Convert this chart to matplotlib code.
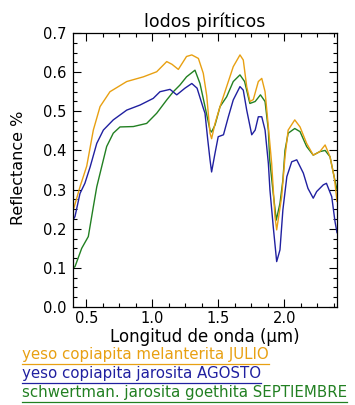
import matplotlib
matplotlib.use("Agg")
import matplotlib.pyplot as plt
from matplotlib.lines import Line2D
from matplotlib.ticker import MultipleLocator

# --- data (wavelength in um, reflectance) ---
x_julio = [0.40, 0.453, 0.504, 0.554, 0.605, 0.68, 0.807, 0.933, 1.034, 1.11,
           1.15, 1.198, 1.26, 1.30, 1.35, 1.387, 1.413, 1.438, 1.45, 1.476,
           1.514, 1.564, 1.614, 1.665, 1.69, 1.716, 1.741, 1.766, 1.804, 1.83,
           1.855, 1.88, 1.905, 1.93, 1.943, 1.981, 2.006, 2.03, 2.08, 2.12,
           2.17, 2.22, 2.27, 2.31, 2.347, 2.38, 2.40]
y_julio = [0.245, 0.307, 0.36, 0.452, 0.512, 0.55, 0.576, 0.588, 0.601, 0.627,
           0.62, 0.607, 0.64, 0.644, 0.635, 0.597, 0.54, 0.444, 0.43, 0.469,
           0.512, 0.563, 0.614, 0.644, 0.631, 0.563, 0.525, 0.53, 0.576, 0.584,
           0.55, 0.46, 0.367, 0.231, 0.197, 0.282, 0.384, 0.452, 0.478, 0.46,
           0.418, 0.388, 0.397, 0.414, 0.384, 0.33, 0.27]

x_agosto = [0.40, 0.415, 0.453, 0.49, 0.53, 0.58, 0.63, 0.705, 0.807, 0.908,
            1.008, 1.059, 1.135, 1.186, 1.248, 1.30, 1.34, 1.387, 1.40, 1.42,
            1.438, 1.45, 1.476, 1.50, 1.54, 1.577, 1.614, 1.665, 1.69, 1.716,
            1.754, 1.78, 1.804, 1.83, 1.855, 1.88, 1.892, 1.917, 1.943, 1.968,
            1.99, 2.02, 2.057, 2.095, 2.145, 2.18, 2.22, 2.246, 2.296, 2.32,
            2.36, 2.385, 2.40]
y_agosto = [0.222, 0.231, 0.29, 0.316, 0.358, 0.418, 0.452, 0.478, 0.503, 0.516,
            0.533, 0.55, 0.556, 0.542, 0.559, 0.571, 0.559, 0.508, 0.495, 0.43,
            0.376, 0.345, 0.393, 0.435, 0.44, 0.486, 0.529, 0.563, 0.554, 0.503,
            0.44, 0.452, 0.486, 0.486, 0.452, 0.367, 0.299, 0.205, 0.116, 0.146,
            0.248, 0.333, 0.371, 0.376, 0.342, 0.303, 0.278, 0.295, 0.312, 0.316,
            0.282, 0.218, 0.19]

x_sept = [0.40, 0.415, 0.466, 0.516, 0.554, 0.58, 0.617, 0.655, 0.705, 0.756,
          0.857, 0.958, 1.034, 1.11, 1.16, 1.21, 1.26, 1.324, 1.362, 1.40,
          1.438, 1.45, 1.476, 1.514, 1.564, 1.614, 1.665, 1.70, 1.74, 1.78,
          1.82, 1.855, 1.88, 1.89, 1.917, 1.94, 1.968, 1.99, 2.006, 2.03,
          2.08, 2.12, 2.17, 2.22, 2.27, 2.31, 2.347, 2.38, 2.40]
y_sept = [0.10, 0.103, 0.15, 0.18, 0.256, 0.307, 0.358, 0.41, 0.444, 0.46,
          0.461, 0.469, 0.495, 0.529, 0.55, 0.567, 0.588, 0.605, 0.571, 0.512,
          0.452, 0.447, 0.465, 0.512, 0.537, 0.576, 0.593, 0.576, 0.52, 0.525,
          0.542, 0.525, 0.452, 0.376, 0.29, 0.222, 0.265, 0.324, 0.40, 0.444,
          0.456, 0.448, 0.41, 0.388, 0.397, 0.40, 0.384, 0.33, 0.30]

labels = ["yeso copiapita melanterita JULIO",
          "yeso copiapita jarosita AGOSTO",
          "schwertman. jarosita goethita SEPTIEMBRE"]
colors = ["#e8a012", "#2020a0", "#228022"]

W, H = 355, 405
fig = plt.figure(figsize=(W / 100, H / 100), dpi=100)
ax = fig.add_axes([73 / W, 1 - 307 / H, 264 / W, 274 / H])

# draw order: green, blue, orange on top
ax.plot(x_sept, y_sept, color=colors[2], lw=1.0)
ax.plot(x_agosto, y_agosto, color=colors[1], lw=1.0)
ax.plot(x_julio, y_julio, color=colors[0], lw=1.0)

ax.set_xlim(0.4, 2.4)
ax.set_ylim(0.0, 0.7)
ax.xaxis.set_major_locator(MultipleLocator(0.5))
ax.xaxis.set_minor_locator(MultipleLocator(0.125))
ax.yaxis.set_major_locator(MultipleLocator(0.1))
ax.yaxis.set_minor_locator(MultipleLocator(0.025))
ax.xaxis.set_major_formatter(plt.FormatStrFormatter("%.1f"))
ax.yaxis.set_major_formatter(plt.FormatStrFormatter("%.1f"))
ax.tick_params(which="both", direction="in", top=True, right=True,
               labelsize=10.5, width=0.8)
ax.tick_params(which="major", length=6)
ax.tick_params(which="minor", length=3)
ax.tick_params(axis="x", which="major", pad=3)
ax.tick_params(axis="y", which="major", pad=5)
for s in ax.spines.values():
    s.set_linewidth(0.9)

ax.set_title("lodos piríticos", fontsize=12.5, pad=4)
fig.text(205 / W, 1 - 342 / H, "Longitud de onda (µm)", fontsize=12,
         ha="center", va="baseline")
fig.text(19 / W, 1 - 168 / H, "Reflectance %", fontsize=11.5,
         rotation=90, ha="center", va="center")

# coloured, underlined legend lines below the plot
baselines = [359, 378, 397]
texts = []
for lab, col, b in zip(labels, colors, baselines):
    t = fig.text(22 / W, 1 - b / H, lab, fontsize=10.8, color=col,
                 ha="left", va="baseline")
    texts.append((t, col, b))

fig.canvas.draw()
r = fig.canvas.get_renderer()
for t, col, b in texts:
    bb = t.get_window_extent(renderer=r)
    y = 1 - (b + 5) / H
    fig.add_artist(Line2D([bb.x0 / W, bb.x1 / W], [y, y], color=col, lw=0.9,
                          transform=fig.transFigure))

fig.savefig("out.png", dpi=100)
